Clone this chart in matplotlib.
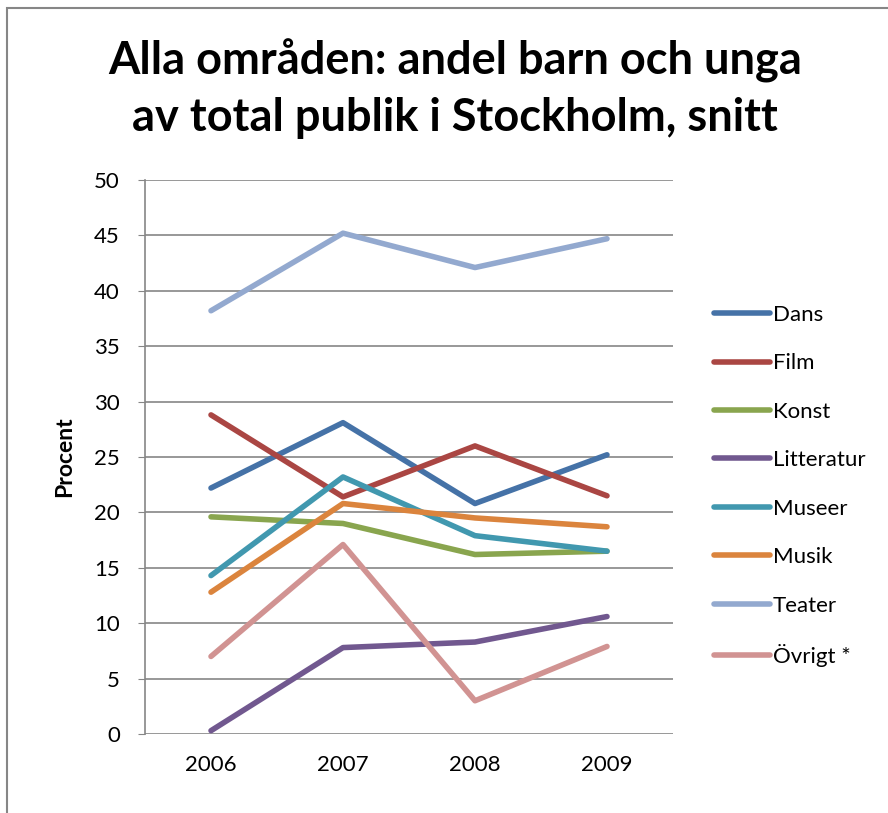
import matplotlib.pyplot as plt
from matplotlib.patches import Rectangle

years = ["2006", "2007", "2008", "2009"]
dans = [22.2, 28.1, 20.8, 25.2]
film = [28.8, 21.4, 26.0, 21.5]
konst = [19.6, 19.0, 16.2, 16.5]
litteratur = [0.3, 7.8, 8.3, 10.6]
museer = [14.3, 23.2, 17.9, 16.5]
musik = [12.8, 20.8, 19.5, 18.7]
teater = [38.2, 45.2, 42.1, 44.7]
ovrigt = [7.0, 17.1, 3.0, 7.9]

series = [
    ("Dans", dans, "#4572a7"),
    ("Film", film, "#aa4643"),
    ("Konst", konst, "#89a54e"),
    ("Litteratur", litteratur, "#71588f"),
    ("Museer", museer, "#4198af"),
    ("Musik", musik, "#db843d"),
    ("Teater", teater, "#93a9cf"),
    ("Övrigt *", ovrigt, "#d19392"),
]

plt.rcParams['font.family'] = ['Lato', 'DejaVu Sans']

fig = plt.figure(figsize=(8.88, 8.13), dpi=100)
W, H = 888, 813
ax = fig.add_axes([145 / W, 1 - 734 / H, 528 / W, 554 / H])

x = [i + 0.5 for i in range(len(years))]
for name, vals, col in series:
    ax.plot(x, vals, color=col, lw=4, label=name, solid_capstyle='round')

ax.set_xlim(0, 4)
ax.set_ylim(0, 50)
ax.set_yticks(range(0, 51, 5))
ax.set_xticks(x)
ax.set_xticklabels(years)
ax.grid(axis='y', color='#868686', lw=1.2)
ax.set_axisbelow(True)
for s in ['top', 'right', 'bottom']:
    ax.spines[s].set_visible(False)
ax.spines['left'].set_color('#868686')
ax.spines['left'].set_linewidth(1.2)
ax.tick_params(axis='y', length=5, color='#868686', labelsize=16, pad=13)
ax.tick_params(axis='x', length=0, labelsize=16, pad=15)
ax.set_ylabel("Procent", fontsize=16.5, fontweight='bold', labelpad=14)

fig.text(455 / W, 1 - 89 / H, "Alla områden: andel barn och unga\nav total publik i Stockholm, snitt",
         ha='center', va='center', fontsize=32.5, fontweight='bold', linespacing=1.42)

fig.legend(loc='center left', bbox_to_anchor=(694 / W, 1 - 486 / H), frameon=False,
           fontsize=16, handlelength=2.5, labelspacing=1.28, handletextpad=0.15)

fig.patches.append(Rectangle((7 / W, -0.1), 1.2, 1 - 8 / H + 0.1, transform=fig.transFigure,
                             fill=False, edgecolor='#868686', lw=1.5))

fig.savefig("out.png", dpi=100)
